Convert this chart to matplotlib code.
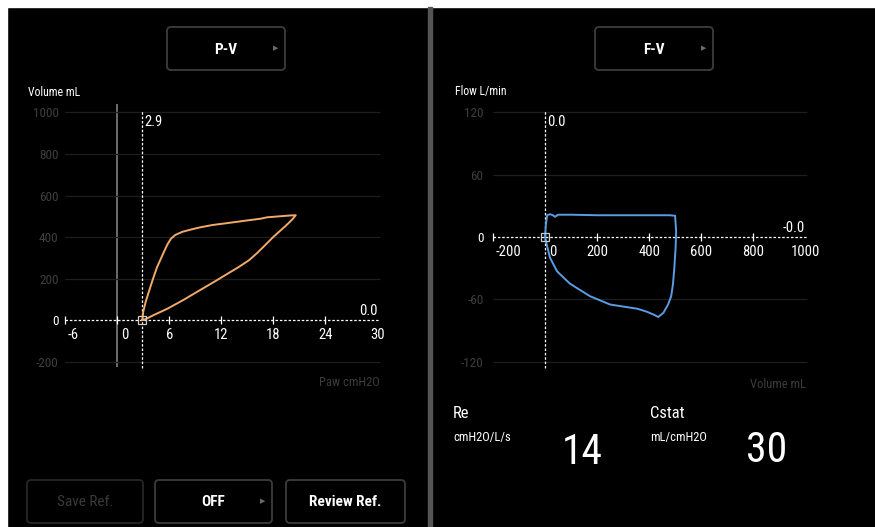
import numpy as np
import matplotlib.pyplot as plt
from matplotlib.patches import FancyBboxPatch, Rectangle

plt.rcParams['font.family'] = ['Roboto Condensed', 'Open Sans Condensed', 'DejaVu Sans']

W, H = 875, 527

# P-V loop (Paw cmH2O vs Volume mL)
pv_paw = [2.9, 3.0, 3.3, 3.6, 4.1, 4.6, 5.3, 5.8, 6.2, 6.7, 7.5, 8.5, 9.6, 11.0, 12.5,
          13.4, 15.0, 16.5, 17.3, 18.8, 20.0, 20.6, 20.2, 19.6, 18.8, 18.0, 17.0, 16.2,
          15.2, 14.0, 12.8, 11.5, 9.5, 7.6, 5.8, 4.2, 3.3, 2.9]
pv_vol = [0, 40, 90, 130, 195, 255, 320, 365, 392, 410, 425, 436, 447, 458, 466,
          471, 480, 488, 495, 500, 504, 505, 485, 460, 430, 400, 358, 325,
          288, 255, 225, 192, 143, 96, 55, 24, 5, 0]

# F-V loop (Volume mL vs Flow L/min)
fv_vol = [0, 3, 8, 19, 30, 38, 50, 100, 200, 300, 400, 480, 500, 504, 502, 497, 492,
          485, 473, 455, 435, 420, 392, 354, 327, 250, 173, 96, 46, 19, 8, 0]
fv_flow = [0, 12, 21, 22, 21, 19.5, 21.5, 21.5, 21, 21, 21, 21, 20.5, 5, -10, -30, -45,
           -57, -65, -73, -77, -75, -72, -69, -68, -65, -57, -45, -33, -20, -9, 0]

pv_xticks = [-6, 0, 6, 12, 18, 24, 30]
pv_yticks = [1000, 800, 600, 400, 200, 0, -200]
fv_xticks = [-200, 0, 200, 400, 600, 800, 1000]
fv_yticks = [120, 60, 0, -60, -120]

pv_cursor = 2.9
fv_cursor = 0.0

fig = plt.figure(figsize=(W / 100, H / 100), dpi=100, facecolor='black')

# background / overlay in pixel coords
bg = fig.add_axes([0, 0, 1, 1])
bg.set_xlim(0, W)
bg.set_ylim(H, 0)
bg.axis('off')
bg.set_facecolor('black')
bg.add_patch(Rectangle((0, 0), W, 7, color='white'))
bg.add_patch(Rectangle((0, 0), 7, H, color='white'))
bg.add_patch(Rectangle((428, 7), 4, H, color='#555555'))


def button(x0, y0, x1, y1, label, edge='#3c3c3c', tc='white', arrow=False, bold=True):
    bg.add_patch(FancyBboxPatch((x0, y0), x1 - x0, y1 - y0,
                                boxstyle='round,pad=0,rounding_size=4',
                                fc='black', ec=edge, lw=1.3))
    bg.text((x0 + x1) / 2, (y0 + y1) / 2 + 1, label, color=tc, fontsize=11,
            fontweight='bold' if bold else 'normal', ha='center', va='center')
    if arrow:
        bg.text(x1 - 9, (y0 + y1) / 2, '\u25B6', color='#6a6a6a', fontsize=5,
                ha='center', va='center', family='DejaVu Sans')


button(167, 27, 285, 70, 'P-V', arrow=True)
button(595, 27, 713, 70, 'F-V', arrow=True)
button(27, 480, 143, 523, 'Save Ref.', edge='#262626', tc='#3a3a3a', bold=False)
button(155, 480, 272, 523, 'OFF', arrow=True)
button(286, 480, 405, 523, 'Review Ref.')

bg.text(28, 92, 'Volume mL', color='white', fontsize=8.5, va='center')
bg.text(455, 92, 'Flow L/min', color='white', fontsize=8.5, va='center')
bg.text(380, 383, 'Paw cmH2O', color='#3c3c3c', fontsize=9, ha='right', va='center')
bg.text(806, 384, 'Volume mL', color='#3c3c3c', fontsize=9, ha='right', va='center')

bg.text(453, 413, 'Re', color='white', fontsize=12, va='center')
bg.text(453, 437, 'cmH2O/L/s', color='white', fontsize=9, va='center')
bg.text(582, 453, '14', color='white', fontsize=30, ha='center', va='center')
bg.text(650, 413, 'Cstat', color='white', fontsize=12, va='center')
bg.text(650, 437, 'mL/cmH2O', color='white', fontsize=9, va='center')
bg.text(767, 451, '30', color='white', fontsize=30, ha='center', va='center')


def px_axes(x0, y0, x1, y1):
    a = fig.add_axes([x0 / W, 1 - y1 / H, (x1 - x0) / W, (y1 - y0) / H])
    a.patch.set_alpha(0)
    for s in a.spines.values():
        s.set_visible(False)
    a.set_xticks([])
    a.tick_params(axis='y', length=0, pad=1, labelsize=9.5, labelcolor='#3e3e3e')
    return a


def setup(ax, xticks, yticks, xmin, xmax, cursor, cursor_lbl, end_lbl, shifts):
    grid = [t for t in yticks if t != 0]
    ax.hlines(grid, xmin, xmax, color='#1e1e1e', lw=0.9)
    ax.set_yticks(yticks)
    ax.set_yticklabels([str(t) for t in yticks])
    for t, lab in zip(yticks, ax.get_yticklabels()):
        if t == 0:
            lab.set_color('white')
    ax.plot([xmin, xmax], [0, 0], color='white', lw=0.9, ls=(0, (2, 1.5)))
    ax.plot(xticks[:-1], [0] * (len(xticks) - 1), ls='none', marker='|', ms=6,
            mew=0.9, color='white')
    for t, dx in zip(xticks, shifts):
        ax.annotate(str(t), (t, 0), xytext=(dx, -15), textcoords='offset pixels',
                    color='white', fontsize=10.5, ha='center', va='center')
    ylo, yhi = ax.get_ylim()
    ax.vlines(cursor, ylo + (yhi - ylo) * 0.015, yhi - (yhi - ylo) * 0.035,
              color='white', lw=0.9, linestyles=(0, (2, 1.5)))
    ax.annotate(cursor_lbl, (cursor, yhi), xytext=(2, -22), textcoords='offset pixels',
                color='white', fontsize=10.5, ha='left', va='center')
    ax.annotate(end_lbl, (xticks[-1], 0), xytext=(0, 9), textcoords='offset pixels',
                color='white', fontsize=10.5, ha='right', va='center')
    ax.plot([cursor], [0], ls='none', marker='s', ms=6, mfc='none', mec='#cccccc',
            mew=0.9, zorder=5)


ax1 = px_axes(60, 100, 385, 372)
ax1.set_xlim(-6.6, 30.9)
ax1.set_ylim(-250, 1060)
ax1.vlines(0, -228, 1040, color='#8a8a8a', lw=1.1)
setup(ax1, pv_xticks, pv_yticks, -6, 30.3, pv_cursor, f'{pv_cursor:.1f}', '0.0',
      [8, 8, 0, 0, 0, 0, 0])
ax1.plot(pv_paw, pv_vol, color='#f2aa6a', lw=1.4, zorder=4)

ax2 = px_axes(485, 100, 815, 372)
ax2.set_xlim(-231, 1038)
ax2.set_ylim(-130, 132)
setup(ax2, fv_xticks, fv_yticks, -200, 1008, fv_cursor, f'{fv_cursor:.1f}', '-0.0',
      [15, 8, 0, 0, 0, 0, 0])
ax2.plot(fv_vol, fv_flow, color='#5b9de3', lw=1.4, zorder=4)

fig.savefig('out.png', dpi=100, facecolor='black')
